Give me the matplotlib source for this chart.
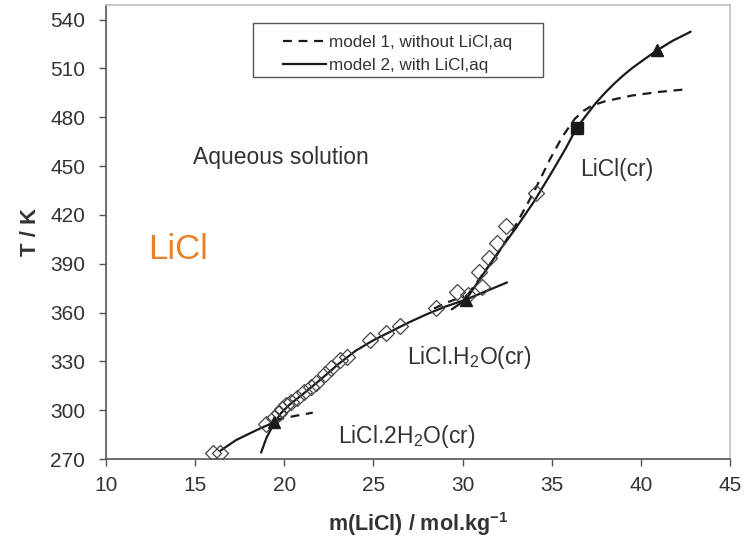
import numpy as np
import matplotlib
matplotlib.use("Agg")
import matplotlib.pyplot as plt
from matplotlib.patches import Rectangle

plt.rcParams["font.family"] = ["Liberation Sans", "DejaVu Sans"]
plt.rcParams["mathtext.fontset"] = "custom"
plt.rcParams["mathtext.rm"] = "Liberation Sans"
plt.rcParams["mathtext.bf"] = "Liberation Sans:bold"

# ── experimental solubility points (open diamonds) ───────────────────────────
exp_m = [16.0, 16.4, 19.0, 19.4, 19.7, 19.9, 20.1, 20.4, 20.7, 21.1, 21.5, 21.8,
         22.3, 22.6, 23.1, 23.5, 24.8, 25.7, 26.5, 28.5, 29.7, 30.3, 31.1, 30.9,
         31.5, 31.95, 32.45, 34.1]
exp_T = [273.5, 273.5, 291.5, 295.0, 298.5, 301.0, 303.0, 305.0, 307.5, 311.0, 314.0, 317.0,
         322.5, 326.0, 331.0, 333.0, 343.0, 347.5, 352.0, 362.5, 372.5, 371.0, 375.5, 385.0,
         393.5, 403.0, 413.0, 433.5]

# ── model 2 (with LiCl,aq) solid lines ───────────────────────────────────────
m2_dihyd_m = [16.4, 17.3, 18.45, 19.4, 19.9]
m2_dihyd_T = [275.0, 281.7, 287.8, 292.5, 295.0]

m2_monohyd_m = [18.7, 19.0, 19.4, 19.8, 20.3, 21.0, 22.0, 23.0, 24.0, 25.0, 26.0,
                27.0, 28.0, 29.0, 30.2, 31.4, 32.5]
m2_monohyd_T = [274.0, 283.0, 291.5, 298.0, 303.5, 309.5, 318.5, 328.0, 336.5, 343.0, 348.5,
                354.0, 359.0, 363.5, 368.0, 373.5, 378.5]

m2_anhyd_m = [29.4, 30.2, 31.0, 32.0, 33.0, 34.0, 35.0, 35.8, 36.4, 37.0, 37.5, 38.0,
              38.5, 39.0, 39.5, 40.0, 40.9, 41.8, 42.8]
m2_anhyd_T = [362.0, 368.0, 381.0, 397.0, 412.0, 428.0, 446.0, 461.0, 473.4, 482.0, 489.0, 495.0,
              500.5, 505.5, 510.0, 514.0, 521.0, 527.0, 532.5]

# ── model 1 (without LiCl,aq) dashed lines ───────────────────────────────────
m1_dihyd_m = [19.5, 20.6, 21.6]
m1_dihyd_T = [294.0, 296.5, 298.5]

m1_monohyd_m = [28.4, 29.2, 30.1]
m1_monohyd_T = [362.5, 366.5, 370.0]

m1_anhyd_m = [30.3, 31.0, 32.0, 33.0, 34.0, 34.9, 35.6, 36.3, 36.8, 37.3, 38.0, 39.5, 41.0, 42.4]
m1_anhyd_T = [371.0, 381.5, 396.5, 414.0, 434.0, 454.0, 468.0, 479.0, 484.0, 487.3, 489.8, 493.3, 495.5, 497.0]

# ── invariant / special points ───────────────────────────────────────────────
tri_m = [19.4, 30.2, 40.9]
tri_T = [292.5, 367.7, 521.0]
sq_m = [36.4]
sq_T = [473.4]

x_ticks = [10, 15, 20, 25, 30, 35, 40, 45]
y_ticks = [270, 300, 330, 360, 390, 420, 450, 480, 510, 540]

fig = plt.figure(figsize=(7.44, 5.42), dpi=100)
ax = fig.add_axes([0.1425, 0.153, 0.8385, 0.838])

lc = "#1a1a1a"
dash = (0, (4, 3))
for mm, tt in [(m2_dihyd_m, m2_dihyd_T), (m2_monohyd_m, m2_monohyd_T), (m2_anhyd_m, m2_anhyd_T)]:
    ax.plot(mm, tt, color=lc, lw=1.6, solid_capstyle="round", solid_joinstyle="round")
for mm, tt in [(m1_dihyd_m, m1_dihyd_T), (m1_monohyd_m, m1_monohyd_T), (m1_anhyd_m, m1_anhyd_T)]:
    ax.plot(mm, tt, color=lc, lw=1.6, ls=dash)

ax.plot(exp_m, exp_T, ls="none", marker="D", ms=8, mfc="none", mec="#444444", mew=0.9)
ax.plot(tri_m, tri_T, ls="none", marker="^", ms=8, color=lc)
ax.plot(sq_m, sq_T, ls="none", marker="s", ms=8, color=lc)

# legend with a hand-placed frame
ax.add_patch(Rectangle((0.2356, 0.8414), 0.4647, 0.119, transform=ax.transAxes,
                       facecolor="white", edgecolor="#555555", lw=1.0, zorder=4))
ax.plot([], [], color=lc, lw=1.6, ls=dash, label="model 1, without LiCl,aq")
ax.plot([], [], color=lc, lw=1.6, label="model 2, with LiCl,aq")
leg = ax.legend(loc="upper left", bbox_to_anchor=(0.2837, 0.934), fontsize=12.3,
                frameon=False, handlelength=2.5, handletextpad=0.2, borderpad=0,
                borderaxespad=0, labelspacing=0.45, labelcolor="#333333")
leg.set_zorder(5)

txt = dict(color="#333333", va="center")
ax.text(14.87, 455, "Aqueous solution", fontsize=16.5, **txt)
ax.text(12.35, 398.5, "LiCl", fontsize=25, color="#E8802C", va="center")
ax.text(36.6, 447.6, "LiCl(cr)", fontsize=16.5, **txt)
ax.text(26.86, 332.7, "LiCl.H$_2$O(cr)", fontsize=16.5, **txt)
ax.text(23.0, 284, "LiCl.2H$_2$O(cr)", fontsize=16.5, **txt)

ax.set_xlim(10, 45)
ax.set_ylim(270, 549)
ax.set_xticks(x_ticks)
ax.set_yticks(y_ticks)
ax.tick_params(axis="both", direction="out", length=5, width=1.0, color="#555555",
               labelsize=15, labelcolor="#333333")
ax.tick_params(axis="y", pad=10)
ax.tick_params(axis="x", pad=7)

for s in ["left", "bottom"]:
    ax.spines[s].set_color("#555555")
    ax.spines[s].set_linewidth(1.2)
for s in ["top", "right"]:
    ax.spines[s].set_color("#c0c0c0")
    ax.spines[s].set_linewidth(1.2)

ax.set_xlabel("m(LiCl) / mol.kg$^{\\mathbf{-1}}$", fontsize=15.5, fontweight="bold", color="#333333")
ax.set_ylabel("T / K", fontsize=16, fontweight="bold", color="#333333")
ax.xaxis.set_label_coords(0.5, -0.113)
ax.yaxis.set_label_coords(-0.104, 0.5)

fig.savefig("out.png", dpi=100)
